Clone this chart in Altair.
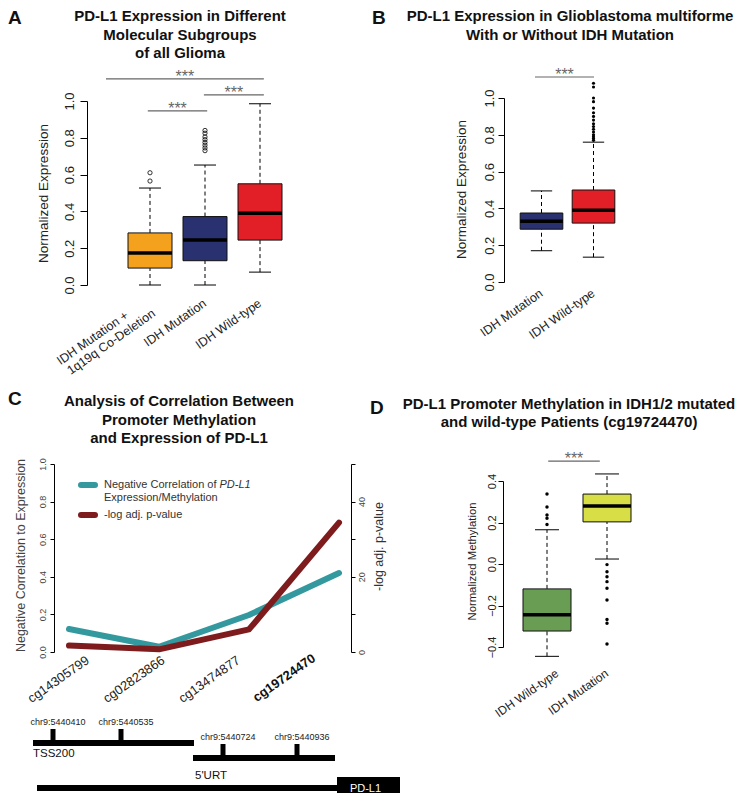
import altair as alt
import pandas as pd

FONT = "Liberation Sans"
W, H = 729, 785

# ---------------- Panel A : PD-L1 expression, all glioma ----------------
a_tick_lines = ["IDH Mutation +", "1q19q Co-Deletion", "IDH Mutation", "IDH Wild-type"]
a_tick_group = [1, 1, 2, 3]
a_tick_line = [1, 2, 1, 1]
a_colors = ["#F4A11E", "#293170", "#E21F26"]
a_low = [0.0, 0.0, 0.07]
a_q1 = [0.092, 0.132, 0.244]
a_med = [0.174, 0.245, 0.39]
a_q3 = [0.283, 0.372, 0.55]
a_high = [0.527, 0.652, 0.985]
a_out_group = [1, 1, 2, 2, 2, 2, 2, 2, 2, 2]
a_out_value = [0.565, 0.61, 0.73, 0.745, 0.76, 0.775, 0.79, 0.805, 0.825, 0.84]
a_sig_from = [0.2, 1.98, 0.96]
a_sig_to = [3.07, 3.07, 2.04]
a_sig_y = [1.12, 1.033, 0.946]

# ---------------- Panel B : GBM with / without IDH mutation ----------------
b_ticks = ["IDH Mutation", "IDH Wild-type"]
b_colors = ["#293170", "#E21F26"]
b_low = [0.17, 0.135]
b_q1 = [0.287, 0.32]
b_med = [0.33, 0.39]
b_q3 = [0.375, 0.5]
b_high = [0.495, 0.76]
b_out_group = [2] * 16
b_out_value = [1.08, 1.06, 1.0, 0.98, 0.945, 0.92, 0.9, 0.88, 0.86, 0.845,
               0.83, 0.815, 0.80, 0.79, 0.78, 0.77]
b_sig_from = [0.875]
b_sig_to = [2.01]
b_sig_y = [1.114]

# ---------------- Panel C : correlation methylation / expression ----------------
c_probes = ["cg14305799", "cg02823866", "cg13474877", "cg19724470"]
c_neg_corr = [0.122, 0.028, 0.197, 0.42]
c_log_p = [1.7, 0.7, 6.0, 34.4]

# ---------------- Panel D : promoter methylation cg19724470 ----------------
d_ticks = ["IDH Wild-type", "IDH Mutation"]
d_colors = ["#6A9D54", "#D8DE45"]
d_low = [-0.445, 0.024]
d_q1 = [-0.323, 0.203]
d_med = [-0.245, 0.28]
d_q3 = [-0.12, 0.337]
d_high = [0.165, 0.434]
d_out_group = [1] * 5 + [2] * 9
d_out_value = [0.337, 0.275, 0.236, 0.22, 0.19,
               -0.003, -0.037, -0.061, -0.085, -0.117, -0.173, -0.267, -0.286, -0.386]
d_sig_from = [1.02]
d_sig_to = [1.88]
d_sig_y = [0.496]

# ---------------- Gene schematic (diagram units) ----------------
g_seg_start = [0, 160, 4]
g_seg_end = [161, 302, 305]
g_seg_track = [50, 35, 5]
g_cpg_label = ["chr9:5440410", "chr9:5440535", "chr9:5440724", "chr9:5440936"]
g_cpg_pos = [20, 88, 190, 264]
g_cpg_track = [50, 50, 35, 35]
g_name_text = ["TSS200", "5'URT"]
g_name_pos = [0, 162]
g_name_level = [39, 17]
g_gene_start = [304]
g_gene_end = [367]


def lin(domain, rng):
    return alt.Scale(domain=domain, range=rng, nice=False, zero=False)


def boxplot(colors, low, q1, med, q3, high, out_group, out_value, out_filled, out_size,
            sig_from, sig_to, sig_y, xs, ys, yaxis, hw):
    n = len(colors)
    stats = pd.DataFrame({"pos": list(range(1, n + 1)), "color": colors, "low": low,
                          "q1": q1, "med": med, "q3": q3, "high": high})
    base = alt.Chart(stats).transform_calculate(
        xl=f"datum.pos - {hw}", xr=f"datum.pos + {hw}",
        cl=f"datum.pos - {hw / 2}", cr=f"datum.pos + {hw / 2}")

    def X(f):
        return alt.X(f + ":Q", scale=xs, axis=None)

    def Y(f):
        return alt.Y(f + ":Q", scale=ys, axis=yaxis)

    dash = dict(color="black", strokeWidth=1, strokeDash=[4, 3])
    w_hi = base.mark_rule(**dash).encode(x=X("pos"), y=Y("q3"), y2="high:Q")
    w_lo = base.mark_rule(**dash).encode(x=X("pos"), y=Y("low"), y2="q1:Q")
    box = base.mark_rect(stroke="#111111", strokeWidth=1).encode(
        x=X("xl"), x2="xr:Q", y=Y("q1"), y2="q3:Q", fill=alt.Fill("color:N", scale=None))
    medl = base.mark_rule(color="black", strokeWidth=3.5).encode(x=X("xl"), x2="xr:Q", y=Y("med"))
    cap_hi = base.mark_rule(color="black", strokeWidth=1).encode(x=X("cl"), x2="cr:Q", y=Y("high"))
    cap_lo = base.mark_rule(color="black", strokeWidth=1).encode(x=X("cl"), x2="cr:Q", y=Y("low"))
    outs = alt.Chart(pd.DataFrame({"pos": out_group, "value": out_value})).mark_point(
        shape="circle", filled=out_filled, size=out_size, color="black",
        strokeWidth=0.8, opacity=1).encode(x=X("pos"), y=Y("value"))
    sig = pd.DataFrame({"x1": sig_from, "x2": sig_to, "y": sig_y})
    sig_line = alt.Chart(sig).mark_rule(color="#666666", strokeWidth=1.2).encode(
        x=X("x1"), x2="x2:Q", y=Y("y"))
    stars = alt.Chart(sig).transform_calculate(xm="(datum.x1 + datum.x2) / 2").mark_text(
        text="***", fontSize=16, color="#666666", baseline="alphabetic", dy=3.4).encode(
        x=X("xm"), y=Y("y"))
    return [w_hi, w_lo, box, medl, cap_hi, cap_lo, outs, sig_line, stars], X, Y


def yaxis(offset, values, fmt, tick, lab_size, pad, title, title_size, tx, ty, color="#222222"):
    return alt.Axis(orient="left", offset=offset, values=values, format=fmt, tickSize=tick,
                    labelAngle=270, labelAlign="center", labelBaseline="bottom",
                    labelPadding=pad, labelFontSize=lab_size, labelColor=color,
                    labelOverlap=False, labelFlush=False,
                    title=title, titleFontSize=title_size, titleFontWeight="normal",
                    titleAngle=270, titleX=tx, titleY=ty, titleAlign="center",
                    titleBaseline="middle", titleColor=color, grid=False,
                    domainColor="black", tickColor="black")


def txt(text, x, y, **kw):
    return alt.Chart(pd.DataFrame({"t": [text]})).mark_text(**kw).encode(
        x=alt.value(x), y=alt.value(y), text="t:N")


def seg(x1, x2, y, color, width):
    return alt.Chart(pd.DataFrame({"k": [0]})).mark_rule(
        color=color, strokeWidth=width, strokeCap="round").encode(
        x=alt.value(x1), x2=alt.value(x2), y=alt.value(y))


# ---------------- build panel A ----------------
ax = lin([0, 4], [87, 307])
ay = lin([0, 1], [277, 93])
a_axis = yaxis(-79, [0, 0.2, 0.4, 0.6, 0.8, 1.0], ".1f", 7, 13, 4,
               "Normalized Expression", 13.5, -44, 185)
a_layers, aX, aY = boxplot(a_colors, a_low, a_q1, a_med, a_q3, a_high, a_out_group, a_out_value,
                           False, 18, a_sig_from, a_sig_to, a_sig_y, ax, ay, a_axis, 0.4)
a_tick_df = pd.DataFrame({"text": a_tick_lines, "group": a_tick_group, "line": a_tick_line})
a_tick_layer = alt.Chart(a_tick_df).transform_calculate(
    lx="datum.group + (datum.line == 2 ? 0.07 : (datum.group == 1 ? -0.42 : 0))",
    ly="datum.line == 2 ? -0.147 : (datum.group == 1 ? -0.158 : -0.092)"
).mark_text(angle=325, align="right", baseline="middle", fontSize=12.5, color="#222222").encode(
    x=aX("lx"), y=aY("ly"), text="text:N")
panelA = alt.layer(*a_layers, a_tick_layer)

# ---------------- build panel B ----------------
bx = lin([0, 3], [481.5, 637.5])
by = lin([0, 1], [274, 90])
b_axis = yaxis(-496, [0, 0.2, 0.4, 0.6, 0.8, 1.0], ".1f", 6, 13, 2,
               "Normalized Expression", 13.5, -43, 181)
b_layers, bX, bY = boxplot(b_colors, b_low, b_q1, b_med, b_q3, b_high, b_out_group, b_out_value,
                           True, 10, b_sig_from, b_sig_to, b_sig_y, bx, by, b_axis, 0.41)
b_tick_layer = alt.Chart(pd.DataFrame({"text": b_ticks, "pos": [1, 2]})).mark_text(
    angle=325, align="right", baseline="middle", fontSize=12.5, color="#222222").encode(
    x=bX("pos"), y=alt.value(284), text="text:N")
panelB = alt.layer(*b_layers, b_tick_layer)

# ---------------- build panel D ----------------
dx = lin([0, 3], [479, 659])
dy = lin([-0.4, 0.4], [639, 473])
d_axis = yaxis(-495, [-0.4, -0.2, 0.0, 0.2, 0.4], ".1f", 5, 11, 1,
               "Normalized Methylation", 11.3, -31, 553)
d_layers, dX, dY = boxplot(d_colors, d_low, d_q1, d_med, d_q3, d_high, d_out_group, d_out_value,
                           True, 12, d_sig_from, d_sig_to, d_sig_y, dx, dy, d_axis, 0.4)
d_tick_layer = alt.Chart(pd.DataFrame({"text": d_ticks, "pos": [1, 2]})).transform_calculate(
    lx="datum.pos + (datum.pos == 1 ? 0.17 : 0)").mark_text(
    angle=325, align="right", baseline="middle", fontSize=12, color="#222222").encode(
    x=dX("lx"), y=alt.value(664), text="text:N")
panelD = alt.layer(*d_layers, d_tick_layer)

# ---------------- build panel C ----------------
cx = lin([1, 4], [61, 331])
cy = lin([0, 1], [644, 456])
cy2 = lin([0, 50], [644, 456])
c_df = pd.DataFrame({"idx": [1, 2, 3, 4], "probe": c_probes, "corr": c_neg_corr, "logp": c_log_p})
c_left = yaxis(-46, [0, 0.2, 0.4, 0.6, 0.8, 1.0], ".1f", 4, 9, 3,
               "Negative Correlation to Expression", 12.5, -34, 547, color="#444444")
c_right = alt.Axis(orient="right", offset=-386, values=[0, 10, 20, 30, 40, 50], format="d",
                   labelExpr="datum.value % 20 === 0 ? datum.label : ''",
                   tickSize=4, labelAngle=270, labelAlign="center", labelBaseline="top",
                   labelPadding=2, labelFontSize=9, labelColor="#444444",
                   labelOverlap=False, labelFlush=False,
                   title="-log adj. p-value", titleFontSize=12.5, titleFontWeight="normal",
                   titleAngle=270, titleX=27, titleY=538, titleAlign="center",
                   titleBaseline="middle", titleColor="#333333", grid=False,
                   domainColor="black", tickColor="black")
teal = alt.Chart(c_df).mark_line(color="#33999F", strokeWidth=6, strokeCap="round",
                                 strokeJoin="round").encode(
    x=alt.X("idx:Q", scale=cx, axis=None), y=alt.Y("corr:Q", scale=cy, axis=c_left))
dred = alt.Chart(c_df).mark_line(color="#7E1C1D", strokeWidth=6, strokeCap="round",
                                 strokeJoin="round").encode(
    x=alt.X("idx:Q", scale=cx, axis=None), y=alt.Y("logp:Q", scale=cy2, axis=c_right))
c_lab = alt.Chart(c_df).transform_calculate(lx="1.21 + (datum.idx - 1) * 0.838")
c_lab_norm = c_lab.transform_filter("datum.idx < 4").mark_text(
    angle=325, align="right", baseline="middle", fontSize=13, color="#222222").encode(
    x=alt.X("lx:Q", scale=cx, axis=None), y=alt.value(651), text="probe:N")
c_lab_bold = c_lab.transform_filter("datum.idx == 4").mark_text(
    angle=325, align="right", baseline="middle", fontSize=13, fontWeight="bold",
    color="#111111").encode(
    x=alt.X("lx:Q", scale=cx, axis=None), y=alt.value(649), text="probe:N")
leg_kw = dict(fontSize=11, align="left", baseline="middle", color="#333333")
panelC = alt.layer(
    teal, dred, c_lab_norm, c_lab_bold,
    seg(73, 87, 477, "#33999F", 6), seg(73, 87, 507, "#7E1C1D", 6),
    txt("Negative Correlation of ", 96, 477, **leg_kw),
    txt("PD-L1", 211.5, 477, fontStyle="italic", **leg_kw),
    txt("Expression/Methylation", 96, 490, **leg_kw),
    txt("-log adj. p-value", 96, 507, **leg_kw),
).resolve_scale(y="independent")

# ---------------- gene schematic ----------------
gx = lin([0, 367], [25, 392])
gy = lin([0, 80], [785, 705])
GX = lambda f: alt.X(f + ":Q", scale=gx, axis=None)
GY = lambda f: alt.Y(f + ":Q", scale=gy, axis=None)
segs = pd.DataFrame({"start": g_seg_start, "end": g_seg_end, "track": g_seg_track})
cpg = pd.DataFrame({"label": g_cpg_label, "pos": g_cpg_pos, "track": g_cpg_track})
names = pd.DataFrame({"text": g_name_text, "pos": g_name_pos, "level": g_name_level})
gene = pd.DataFrame({"start": g_gene_start, "end": g_gene_end, "name": ["PD-L1"]})
gene_panel = alt.layer(
    alt.Chart(segs).mark_rule(color="black", strokeWidth=6).encode(
        x=GX("start"), x2="end:Q", y=GY("track")),
    alt.Chart(cpg).transform_calculate(top="datum.track + 14").mark_rule(
        color="black", strokeWidth=5).encode(x=GX("pos"), y=GY("track"), y2="top:Q"),
    alt.Chart(cpg).transform_calculate(ly="datum.track + 21").mark_text(
        fontSize=9, xOffset=5, baseline="middle", color="#222222").encode(
        x=GX("pos"), y=GY("ly"), text="label:N"),
    alt.Chart(names).mark_text(fontSize=11.5, align="left", baseline="middle",
                               color="#111111").encode(
        x=GX("pos"), y=GY("level"), text="text:N"),
    alt.Chart(gene).transform_calculate(lo="0", hi="16").mark_rect(color="black").encode(
        x=GX("start"), x2="end:Q", y=GY("lo"), y2="hi:Q"),
    alt.Chart(gene).transform_calculate(mid="(datum.start + datum.end) / 2 - 3", ty="4").mark_text(
        fontSize=11, color="white", baseline="middle").encode(
        x=GX("mid"), y=GY("ty"), text="name:N"),
)

# ---------------- titles and panel letters ----------------
t_kw = dict(fontSize=15, fontWeight="bold", align="center", baseline="top",
            lineBreak="\n", lineHeight=18.5, color="#111111")
l_kw = dict(fontSize=19, fontWeight="bold", align="left", baseline="top", color="#111111")
titles = [
    txt("PD-L1 Expression in Different\nMolecular Subgroups\nof all Glioma", 172, 1, **t_kw),
    txt("PD-L1 Expression in Glioblastoma multiforme\nWith or Without IDH Mutation", 562, 1, **t_kw),
    txt("Analysis of Correlation Between\nPromoter Methylation\nand Expression of PD-L1", 171, 386, **t_kw),
    txt("PD-L1 Promoter Methylation in IDH1/2 mutated\nand wild-type Patients (cg19724470)",
        561, 389, **dict(t_kw, lineHeight=17.5)),
    txt("A", 0, 1, **l_kw),
    txt("B", 364, 1, **l_kw),
    txt("C", 0, 382, **l_kw),
    txt("D", 362, 391, **l_kw),
]

chart = alt.layer(panelA, panelB, panelC, panelD, gene_panel, *titles).resolve_scale(
    x="independent", y="independent"
).properties(
    width=W, height=H, autosize=alt.AutoSizeParams(type="none"), padding=0
).configure_view(stroke=None).configure_axis(
    labelFont=FONT, titleFont=FONT, grid=False
).configure_text(font=FONT)

chart.save("out.html", embed_options={"renderer": "svg", "actions": False})
